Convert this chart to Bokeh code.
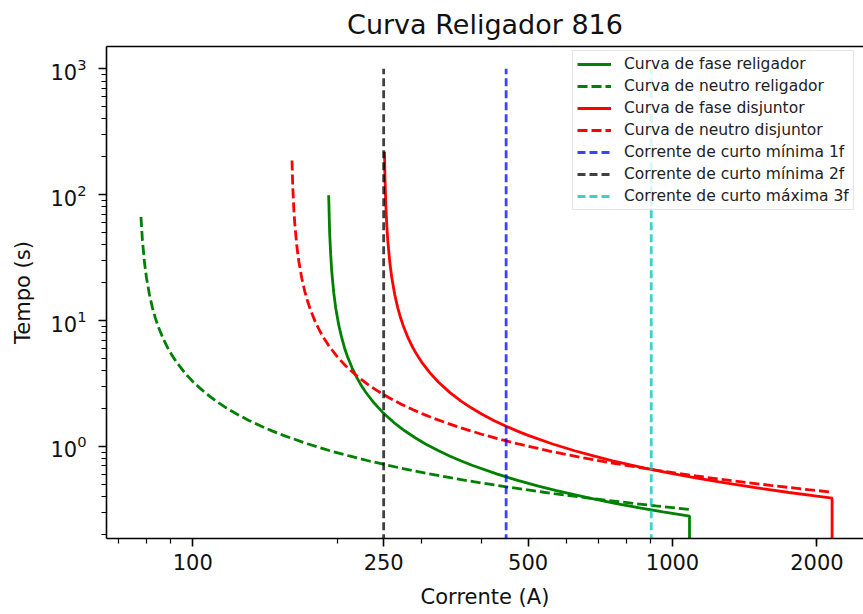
from bokeh.plotting import figure
from bokeh.models import (Range1d, FixedTicker, LogTickFormatter, NumeralTickFormatter,
                          Legend, LegendItem, LogAxis)
from bokeh.embed import file_html
from bokeh.resources import INLINE

# Curva de fase do religador: corrente (A) x tempo (s)
fase_rel_i = [192.0, 192.9, 193.9, 194.8, 196.7, 198.6, 201.5, 204.4, 207.2, 210.1,
              214.9, 219.7, 224.4, 229.2, 238.8, 248.3, 262.6, 277.0, 291.3, 305.6,
              324.7, 343.8, 362.9, 382.0, 429.8, 477.5, 525.3, 573.0, 668.5, 764.0,
              859.5, 955.0, 1085.0, 1085.0]
fase_rel_t = [99.2, 49.7, 33.24, 25.0, 16.74, 12.62, 9.24, 7.311, 6.063, 5.189,
              4.198, 3.537, 3.065, 2.71, 2.213, 1.882, 1.549, 1.327, 1.168, 1.048,
              0.928, 0.837, 0.766, 0.709, 0.606, 0.535, 0.484, 0.446, 0.390, 0.352,
              0.324, 0.303, 0.280, 0.01]

# Curva de neutro do religador
neutro_rel_i = [78.0, 78.16, 78.54, 79.31, 80.08, 81.24, 82.39, 83.55, 84.7, 86.63,
                88.55, 90.48, 92.4, 96.25, 100.1, 105.9, 111.65, 117.4, 123.2, 130.9,
                138.6, 146.3, 154.0, 173.3, 192.5, 211.8, 231.0, 269.5, 308.0, 346.5,
                385.0, 462.0, 539.0, 616.0, 770.0, 924.0, 1087.0]
neutro_rel_t = [66.5, 57.7, 43.38, 29.06, 21.9, 16.04, 12.69, 10.52, 9.006, 7.286,
                6.139, 5.319, 4.704, 3.842, 3.266, 2.689, 2.304, 2.027, 1.82, 1.611,
                1.453, 1.33, 1.231, 1.051, 0.929, 0.841, 0.774, 0.677, 0.611, 0.563,
                0.525, 0.471, 0.433, 0.405, 0.365, 0.337, 0.316]

# Curva de fase do disjuntor
fase_dj_i = [251.0, 251.5, 252.5, 253.75, 255.0, 257.5, 260.0, 263.75, 267.5, 271.25,
             275.0, 281.25, 287.5, 293.75, 300.0, 312.5, 325.0, 343.75, 362.5, 381.25,
             400.0, 425.0, 450.0, 475.0, 500.0, 562.5, 625.0, 687.5, 750.0, 875.0,
             1000.0, 1125.0, 1250.0, 1500.0, 1750.0, 2000.0, 2151.0, 2151.0]
fase_dj_t = [219.8, 143.0, 85.97, 57.44, 43.19, 28.93, 21.8, 15.97, 12.63, 10.48,
             8.966, 7.254, 6.112, 5.296, 4.683, 3.825, 3.252, 2.678, 2.294, 2.019,
             1.812, 1.604, 1.447, 1.324, 1.226, 1.046, 0.925, 0.837, 0.770, 0.674,
             0.609, 0.560, 0.523, 0.469, 0.431, 0.403, 0.389, 0.01]

# Curva de neutro do disjuntor
neutro_dj_i = [161.0, 161.6, 162.4, 163.2, 164.8, 166.4, 168.8, 171.2, 173.6, 176.0,
               180.0, 184.0, 188.0, 192.0, 200.0, 208.0, 220.0, 232.0, 244.0, 256.0,
               272.0, 288.0, 304.0, 320.0, 360.0, 400.0, 440.0, 480.0, 560.0, 640.0,
               720.0, 800.0, 960.0, 1120.0, 1280.0, 1600.0, 1920.0, 2151.0]
neutro_dj_t = [187.2, 116.3, 77.71, 58.43, 39.14, 29.5, 21.6, 17.09, 14.17, 12.13,
               9.814, 8.269, 7.164, 6.336, 5.175, 4.399, 3.622, 3.103, 2.731, 2.451,
               2.169, 1.957, 1.791, 1.658, 1.416, 1.251, 1.132, 1.042, 0.912, 0.823,
               0.758, 0.708, 0.634, 0.583, 0.545, 0.491, 0.454, 0.434]

# Correntes de curto-circuito (A)
curto_1f = 450
curto_2f = 250
curto_3f = 903
curto_t = [0.01, 1000]

x_ticks = [100, 250, 500, 1000, 2000]
x_minor = [70, 80, 90, 200, 300, 400, 600, 700, 800, 900, 2000]
y_ticks = [1, 10, 100, 1000]
y_minor = [m * d for d in (0.1, 1, 10, 100) for m in range(2, 10)]

FONT = "DejaVu Sans"

p = figure(width=863, height=614, x_axis_type="log", y_axis_type="log",
           x_range=Range1d(66.1, 2501), y_range=Range1d(0.1858, 1505),
           output_backend="svg", toolbar_location=None,
           min_border_left=106, min_border_right=0, min_border_top=46, min_border_bottom=76,
           title="Curva Religador 816")
p.title.align = "center"
p.title.text_font = FONT
p.title.text_font_size = "27px"
p.title.text_font_style = "normal"
p.title.text_color = "#111111"
p.title.standoff = 13
p.outline_line_color = None
p.xgrid.visible = False
p.ygrid.visible = False
p.background_fill_color = "white"
p.border_fill_color = "white"

r_fr = p.line(fase_rel_i, fase_rel_t, line_color="#008000", line_width=2.8)
r_nr = p.line(neutro_rel_i, neutro_rel_t, line_color="#008000", line_width=2.8,
              line_dash="10 4")
r_fd = p.line(fase_dj_i, fase_dj_t, line_color="#ff0000", line_width=2.8)
r_nd = p.line(neutro_dj_i, neutro_dj_t, line_color="#ff0000", line_width=2.8,
              line_dash="10 4")
r_1f = p.line([curto_1f, curto_1f], curto_t, line_color="#0000ff", line_alpha=0.75,
              line_width=2.8, line_dash="8 4")
r_2f = p.line([curto_2f, curto_2f], curto_t, line_color="#000000", line_alpha=0.75,
              line_width=2.8, line_dash="8 4")
r_3f = p.line([curto_3f, curto_3f], curto_t, line_color="#00bfbf", line_alpha=0.75,
              line_width=2.8, line_dash="8 4")

for ax in (p.xaxis[0], p.yaxis[0]):
    ax.axis_line_width = 1.6
    ax.major_tick_line_width = 1.6
    ax.minor_tick_line_width = 1.2
    ax.major_tick_out = 8
    ax.major_tick_in = 0
    ax.minor_tick_out = 5
    ax.minor_tick_in = 0
    ax.major_label_text_font = FONT
    ax.major_label_text_font_size = "21px"
    ax.major_label_text_color = "#111111"
    ax.axis_label_text_font = FONT
    ax.axis_label_text_font_size = "21px"
    ax.axis_label_text_font_style = "normal"
    ax.axis_label_text_color = "#111111"

p.xaxis.ticker = FixedTicker(ticks=x_ticks, minor_ticks=x_minor)
p.xaxis.formatter = NumeralTickFormatter(format="0")
p.xaxis.axis_label = "Corrente (A)"
p.xaxis.major_label_standoff = 7
p.xaxis.axis_label_standoff = 12

p.yaxis.ticker = FixedTicker(ticks=y_ticks, minor_ticks=y_minor)
p.yaxis.formatter = LogTickFormatter(min_exponent=0)
p.yaxis.axis_label = "Tempo (s)"
p.yaxis.major_label_standoff = 12
p.yaxis.axis_label_standoff = 12

# top spine only
top = LogAxis(ticker=FixedTicker(ticks=[]), axis_line_width=1.6,
              major_tick_out=0, major_tick_in=0, minor_tick_out=0, minor_tick_in=0,
              major_label_text_font_size="0px", major_label_standoff=0)
p.add_layout(top, "above")

legend = Legend(items=[
    LegendItem(label="Curva de fase religador", renderers=[r_fr]),
    LegendItem(label="Curva de neutro religador", renderers=[r_nr]),
    LegendItem(label="Curva de fase disjuntor", renderers=[r_fd]),
    LegendItem(label="Curva de neutro disjuntor", renderers=[r_nd]),
    LegendItem(label="Corrente de curto mínima 1f", renderers=[r_1f]),
    LegendItem(label="Corrente de curto mínima 2f", renderers=[r_2f]),
    LegendItem(label="Corrente de curto máxima 3f", renderers=[r_3f]),
], location=(466, 328))
legend.label_text_font = FONT
legend.label_text_font_size = "15.5px"
legend.label_text_color = "#222222"
legend.padding = 4
legend.margin = 0
legend.spacing = 4
legend.glyph_width = 34
legend.glyph_height = 18
legend.label_height = 18
legend.label_standoff = 13
legend.border_line_color = "#cccccc"
legend.border_line_width = 1.2
legend.background_fill_alpha = 0.8
p.add_layout(legend)

open("out.html", "w").write(file_html(p, INLINE))
